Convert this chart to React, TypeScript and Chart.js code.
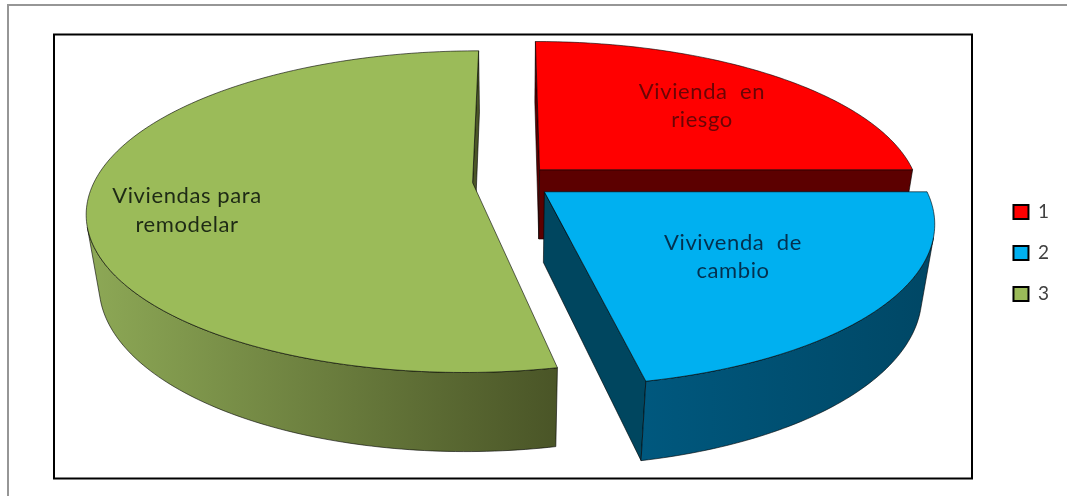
import React, { useEffect, useRef } from "react";
import { Chart, registerables } from "chart.js";

Chart.register(...registerables);

const categories = ["1", "2", "3"];
const values = [25, 21.75, 53.25];
const sliceColors = ["#FF0000", "#00B0F0", "#9BBB59"];
const sliceText = [["Vivienda  en", "riesgo"], ["Vivivenda  de", "cambio"], ["Viviendas para", "remodelar"]];

const P = { cx: 512, cy: 181, a: 378, b: 155, p: 0.18, q: 0.03, d0: 70, d1: 9 };
const top = (U: number, V: number, dy: number) => {
  const D = 1 - P.p * V;
  return [P.cx + (P.a * U) / D, P.cy + dy + (P.b * V) / D];
};
const bot = (U: number, V: number, dy: number) => {
  const D = 1 - P.p * V;
  const t = top(U, V, dy);
  return [P.cx + (P.a * U) / (D + P.q), t[1] + P.d0 + P.d1 * V];
};
const area = (q: number[][]) => {
  let s = 0;
  q.forEach((pt, i) => {
    const n = q[(i + 1) % q.length];
    s += pt[0] * n[1] - n[0] * pt[1];
  });
  return s;
};

const wallStyles = [
  { cut: "#5c0000", stops: ["#6a0000", "#5c0000"], from: 540, to: 915, dy: 0 },
  { cut: "#00465f", stops: ["#00587e", "#004765"], from: 641, to: 935, dy: 0 },
  { cut: "#4b5628", stops: ["#8ca755", "#4a5527"], from: 95, to: 556, dy: 0 },
];
const textSpots = [
  { x: 702, y: [92, 120], fill: "#6a0505" },
  { x: 733, y: [243, 271], fill: "#04304e" },
  { x: 187, y: [196, 225], fill: "#1e2a15" },
];

const pie3d = {
  id: "pie3d",
  beforeDraw(chart: any) {
    const { ctx, width, height } = chart;
    ctx.save();
    ctx.fillStyle = "#fff";
    ctx.fillRect(0, 0, width, height);
    ctx.fillStyle = "#969696";
    ctx.fillRect(7, 4, width - 7, 2);
    ctx.fillRect(7, 4, 2, height - 4);
    ctx.strokeStyle = "#000";
    ctx.lineWidth = 2;
    ctx.strokeRect(54, 34.5, 918, 444);
    ctx.restore();
  },
  beforeDatasetDraw(chart: any) {
    const { ctx } = chart;
    const arcs = chart.getDatasetMeta(0).data;
    const poly = (pts: number[][], fill: any) => {
      ctx.beginPath();
      pts.forEach((pt, i) => (i ? ctx.lineTo(pt[0], pt[1]) : ctx.moveTo(pt[0], pt[1])));
      ctx.closePath();
      ctx.fillStyle = fill;
      ctx.fill();
      ctx.strokeStyle = "rgba(0,0,0,0.75)";
      ctx.lineWidth = 0.8;
      ctx.stroke();
    };
    ctx.save();
    [0, 2, 1].forEach((i) => {
      const arc = arcs[i];
      const R = arc.outerRadius;
      const mid = (arc.startAngle + arc.endAngle) / 2;
      const e = (arc.options.offset || 0) / R;
      const ox = e * Math.cos(mid);
      const oy = e * Math.sin(mid);
      const n = Math.ceil(((arc.endAngle - arc.startAngle) * 180) / Math.PI);
      const rim: number[][] = [];
      for (let k = 0; k <= n; k++) {
        const t = arc.startAngle + ((arc.endAngle - arc.startAngle) * k) / n;
        rim.push([ox + Math.cos(t), oy + Math.sin(t)]);
      }
      const style = wallStyles[i];
      const tp = (w: number[]) => top(w[0], w[1], style.dy);
      const bt = (w: number[]) => bot(w[0], w[1], style.dy);
      const apex = [ox, oy];
      [
        [apex, rim[0]],
        [rim[n], apex],
      ].forEach(([A, B]) => {
        const quad = [tp(A), tp(B), bt(B), bt(A)];
        if (area(quad) < 0) poly(quad, style.cut);
      });
      const grad = ctx.createLinearGradient(style.from, 0, style.to, 0);
      grad.addColorStop(0, style.stops[0]);
      grad.addColorStop(1, style.stops[1]);
      let run: number[][] = [];
      const flush = () => {
        if (run.length > 1) {
          poly([...run.map(tp), ...run.slice().reverse().map(bt)], grad);
        }
        run = [];
      };
      for (let k = 0; k < n; k++) {
        const quad = [tp(rim[k]), tp(rim[k + 1]), bt(rim[k + 1]), bt(rim[k])];
        if (area(quad) < 0) {
          if (!run.length) run.push(rim[k]);
          run.push(rim[k + 1]);
        } else flush();
      }
      flush();
      poly([tp(apex), ...rim.map(tp)], sliceColors[i]);
    });
    ctx.font = "22px Lato";
    (ctx as any).letterSpacing = "0.6px";
    ctx.textAlign = "center";
    ctx.textBaseline = "middle";
    sliceText.forEach((lines, i) => {
      ctx.fillStyle = textSpots[i].fill;
      lines.forEach((line, j) => ctx.fillText(line, textSpots[i].x, textSpots[i].y[j]));
    });
    ctx.restore();
    return false;
  },
};

export default function App() {
  const ref = useRef<HTMLCanvasElement>(null);
  useEffect(() => {
    document.body.style.margin = "0";
    const chart = new Chart(ref.current as HTMLCanvasElement, {
      type: "pie",
      data: {
        labels: categories,
        datasets: [
          {
            data: values,
            backgroundColor: sliceColors,
            borderColor: "#000",
            borderWidth: 2,
            offset: [24, 25, 24],
          },
        ],
      },
      options: {
        responsive: false,
        animation: false,
        rotation: 0,
        layout: { padding: { top: 10, right: 8 } },
        plugins: {
          tooltip: { enabled: false },
          legend: {
            position: "right",
            labels: {
              boxWidth: 15,
              boxHeight: 14,
              padding: 22,
              color: "#404040",
              font: { family: "Lato", size: 19 },
            },
          },
        },
      },
      plugins: [pie3d],
    } as any);
    return () => chart.destroy();
  }, []);
  return (
    <div style={{ position: "absolute", left: 0, top: 0, width: 1067, height: 496 }}>
      <canvas ref={ref} width={1067} height={496} style={{ display: "block" }} />
    </div>
  );
}
